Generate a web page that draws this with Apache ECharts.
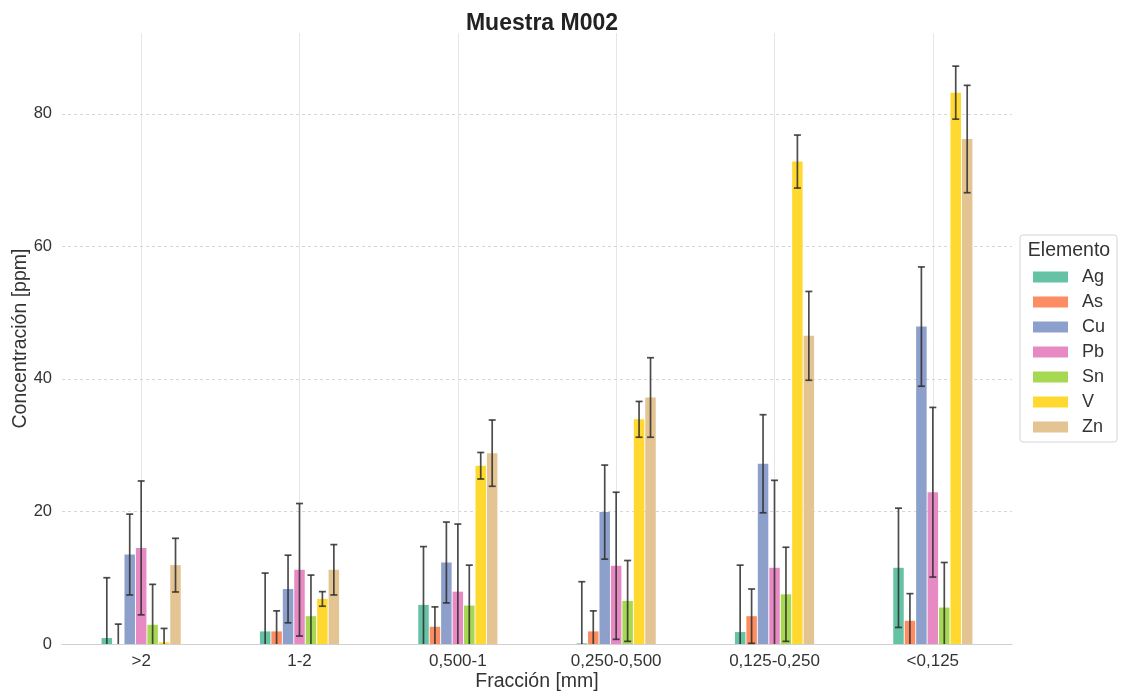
<!DOCTYPE html>
<html>
<head>
<meta charset="utf-8">
<script src="https://cdn.jsdelivr.net/npm/echarts@6/dist/echarts.min.js"></script>
<style>
html,body{margin:0;padding:0;background:#fff;}
#chart{width:1124px;height:699px;}
</style>
</head>
<body>
<div id="chart"></div>
<script>
const categories = ['>2', '1-2', '0,500-1', '0,250-0,500', '0,125-0,250', '<0,125'];
const elements = ['Ag', 'As', 'Cu', 'Pb', 'Sn', 'V', 'Zn'];
const yTicks = [20, 40, 60, 80];

const valAg = [0.9, 1.9, 5.9, 0.1, 1.8, 11.5];
const valAs = [0.0, 1.9, 2.6, 1.9, 4.2, 3.5];
const valCu = [13.5, 8.3, 12.3, 19.9, 27.2, 47.9];
const valPb = [14.5, 11.2, 7.9, 11.8, 11.5, 22.9];
const valSn = [2.9, 4.2, 5.8, 6.5, 7.5, 5.5];
const valV  = [0.25, 6.8, 26.9, 33.9, 72.8, 83.2];
const valZn = [11.9, 11.2, 28.8, 37.2, 46.5, 76.2];

const errAg = [9.1, 8.8, 8.8, 9.3, 10.1, 9.0];
const errAs = [3.0, 3.1, 3.0, 3.1, 4.1, 4.1];
const errCu = [6.1, 5.1, 6.1, 7.1, 7.4, 9.0];
const errPb = [10.1, 10.0, 10.2, 11.1, 13.2, 12.8];
const errSn = [6.1, 6.2, 6.1, 6.1, 7.1, 6.8];
const errV  = [2.1, 1.1, 2.0, 2.7, 4.0, 4.0];
const errZn = [4.05, 3.8, 5.0, 6.0, 6.7, 8.1];

const values = [valAg, valAs, valCu, valPb, valSn, valV, valZn];
const errors = [errAg, errAs, errCu, errPb, errSn, errV, errZn];
const colors = ['#66c2a5', '#fc8d62', '#8da0cb', '#e78ac3', '#a6d854', '#ffd92f', '#e5c494'];

const BAR_W = 10.5;
const BAR_GAP_PX = 0.95;
const PITCH = BAR_W + BAR_GAP_PX;
const FONT = '"Liberation Sans", Arial, sans-serif';

const chart = echarts.init(document.getElementById('chart'), null, {renderer: 'canvas'});

const series = [];
// background grid lines (under bars)
series.push({
  type: 'line',
  data: [],
  z: 0,
  silent: true,
  markLine: {
    silent: true,
    z: 0,
    symbol: 'none',
    label: {show: false},
    animation: false,
    data: categories.map((c, i) => ({xAxis: i, lineStyle: {color: '#e6e6e6', width: 1, type: 'solid'}}))
      .concat(yTicks.map(t => ({yAxis: t, lineStyle: {color: '#d6d6d6', width: 1, type: [3, 3]}})))
  }
});

elements.forEach((el, i) => {
  series.push({
    name: el,
    type: 'bar',
    data: values[i],
    barWidth: BAR_W,
    barGap: (BAR_GAP_PX / BAR_W * 100).toFixed(1) + '%',
    barCategoryGap: '50%',
    itemStyle: {color: colors[i]},
    z: 2,
    animation: false
  });
});

elements.forEach((el, i) => {
  const offset = (i - (elements.length - 1) / 2) * PITCH;
  series.push({
    name: el + '_err',
    type: 'custom',
    z: 3,
    silent: true,
    animation: false,
    encode: {x: 0, y: 1},
    data: values[i].map((v, k) => [k, v, errors[i][k]]),
    renderItem: function (params, api) {
      const k = api.value(0), v = api.value(1), e = api.value(2);
      const low = v - e;
      const pTop = api.coord([k, v + e]);
      const pBot = api.coord([k, Math.max(0, low)]);
      const cx = pTop[0] + offset;
      const style = {stroke: 'rgba(45,45,45,0.85)', lineWidth: 1.7};
      const cap = 3.5;
      const children = [
        {type: 'line', shape: {x1: cx, y1: pTop[1], x2: cx, y2: pBot[1]}, style: style},
        {type: 'line', shape: {x1: cx - cap, y1: pTop[1], x2: cx + cap, y2: pTop[1]}, style: style}
      ];
      if (low >= 0) {
        children.push({type: 'line', shape: {x1: cx - cap, y1: pBot[1], x2: cx + cap, y2: pBot[1]}, style: style});
      }
      return {type: 'group', children: children};
    }
  });
});

const option = {
  backgroundColor: '#ffffff',
  animation: false,
  textStyle: {fontFamily: FONT},
  title: {
    text: 'Muestra M002',
    left: 537,
    textAlign: 'center',
    top: 7,
    textStyle: {fontSize: 23, fontWeight: 'bold', color: '#222', fontFamily: FONT}
  },
  grid: {left: 62, right: 112, top: 33, bottom: 55, containLabel: false, outerBoundsMode: 'none'},
  legend: {
    orient: 'vertical',
    left: 1033,
    top: 268,
    padding: 0,
    itemWidth: 35,
    itemHeight: 11,
    itemGap: 7,
    icon: 'rect',
    selectedMode: false,
    data: elements,
    textStyle: {fontSize: 18, color: '#333', padding: [0, 0, 0, 9], fontFamily: FONT}
  },
  graphic: [
    {
      type: 'rect',
      shape: {x: 1020, y: 235, width: 97, height: 207, r: 3},
      style: {fill: 'rgba(255,255,255,0.8)', stroke: '#d4d4d4', lineWidth: 1},
      z: -1
    },
    {
      type: 'text',
      x: 1069,
      y: 251,
      style: {text: 'Elemento', fontSize: 19.5, fill: '#333', align: 'center', verticalAlign: 'middle', fontFamily: FONT}
    }
  ],
  xAxis: {
    type: 'category',
    data: categories,
    name: 'Fracción [mm]',
    nameLocation: 'middle',
    nameGap: 28,
    nameMoveOverlap: false,
    nameTextStyle: {fontSize: 19.5, color: '#333', fontFamily: FONT},
    axisLine: {show: true, lineStyle: {color: '#cfcfcf', width: 1.2}},
    axisTick: {show: false},
    axisLabel: {fontSize: 17, color: '#333', margin: 9, fontFamily: FONT},
    splitLine: {show: false}
  },
  yAxis: {
    type: 'value',
    min: 0,
    max: 92.2,
    interval: 20,
    name: 'Concentración [ppm]',
    nameLocation: 'middle',
    nameGap: 31,
    nameMoveOverlap: false,
    nameTextStyle: {fontSize: 19.5, color: '#333', fontFamily: FONT},
    axisLine: {show: false},
    axisTick: {show: false},
    axisLabel: {fontSize: 16.5, color: '#333', margin: 10, showMaxLabel: false, fontFamily: FONT},
    splitLine: {show: false}
  },
  series: series
};

chart.setOption(option);
</script>
</body>
</html>
